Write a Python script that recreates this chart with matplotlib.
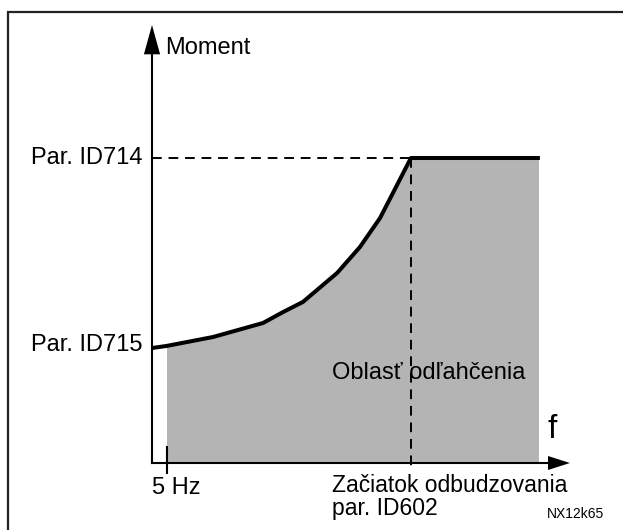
import matplotlib
matplotlib.use("Agg")
import matplotlib.pyplot as plt
import numpy as np
from matplotlib.patches import Rectangle, Polygon

plt.rcParams['font.family'] = ['Liberation Sans', 'DejaVu Sans']

# Torque limit curve (frequency in Hz, torque in % of Par. ID714)
freq = [0, 5, 20.3, 37, 43.7, 50.3, 61.7, 69.3, 76, 80.3, 86.3, 129.3]
moment = [37.7, 38.4, 41.3, 45.9, 49.5, 52.8, 62.3, 70.8, 80.3, 88.5, 100, 100]
fill_end = 129.0
f_min = 5
f_weak = 86.3
m_714 = 100
m_715 = 37.7

W, H = 623, 530
fig = plt.figure(figsize=(W / 100, H / 100), dpi=100)
ax = fig.add_axes([0, 0, 1, 1])
# pixel mapping: x = 152 + 3*f, y = 463 - 3.05*m
sx, sy = 3.0, 3.05
ax.set_xlim(-152 / sx, (W - 152) / sx)
ax.set_ylim(-(H - 463) / sy, 463 / sy)
ax.axis('off')

# outer frame
fig.patches.append(Rectangle((8 / W, -0.1), 1.2, 1 - 12 / H + 0.1, transform=fig.transFigure,
                             fill=False, lw=1.6, ec='#222222'))

# shaded operating area
f = np.array(freq)
m = np.array(moment)
sel = (f >= f_min) & (f <= fill_end)
fx = np.concatenate([f[sel], [fill_end]])
fy = np.concatenate([m[sel], [m[-1]]])
poly = np.column_stack([np.concatenate([fx, [fill_end, f_min]]),
                        np.concatenate([fy, [0, 0]])])
ax.add_patch(Polygon(poly, closed=True, fc='#b4b4b4', ec='none', zorder=1))

# axes with arrows
ax.plot([0, 0], [0, 136], color='black', lw=1.5, zorder=3)
ax.add_patch(Polygon([[-2.7, 134], [2.7, 134], [0, 143.6]], closed=True, fc='black', ec='none', zorder=3))
ax.plot([0, 133], [0, 0], color='black', lw=1.5, zorder=3)
ax.add_patch(Polygon([[132, 2.3], [132, -2.3], [139.3, 0]], closed=True, fc='black', ec='none', zorder=3))

# 5 Hz tick
ax.plot([f_min, f_min], [-3.3, 5.2], color='black', lw=1.5, zorder=3)

# dashed guides
ax.plot([0, f_weak], [m_714, m_714], color='black', lw=1.4, dashes=(5, 3.5), zorder=2)
ax.plot([f_weak, f_weak], [m_714, -2.5], color='black', lw=1.4, dashes=(5, 3.5), zorder=2)

# torque curve
ax.plot(freq, moment, color='black', lw=2.9, solid_joinstyle='round', solid_capstyle='butt', zorder=4)

fs = 17
ax.text(4.3, 136, 'Moment', fontsize=fs, ha='left', va='center')
ax.text(-3.3, m_714, 'Par. ID714', fontsize=fs, ha='right', va='center')
ax.text(-3.3, m_715 + 1, 'Par. ID715', fontsize=fs, ha='right', va='center')
ax.text(0, -8.2, '5 Hz', fontsize=fs, ha='left', va='center')
ax.text(60, 29.5, 'Oblasť odľahčenia', fontsize=fs, ha='left', va='center', zorder=5)
ax.text(60, -9.5, 'Začiatok odbudzovania', fontsize=16.5, ha='left', va='baseline')
ax.text(60, -16.9, 'par. ID602', fontsize=16.5, ha='left', va='baseline')
ax.text(132, 11, 'f', fontsize=24, ha='left', va='center')
ax.text(131.5, -16.6, 'NX12k65', fontsize=10, ha='left', va='center')

fig.savefig('out.png', dpi=100)
